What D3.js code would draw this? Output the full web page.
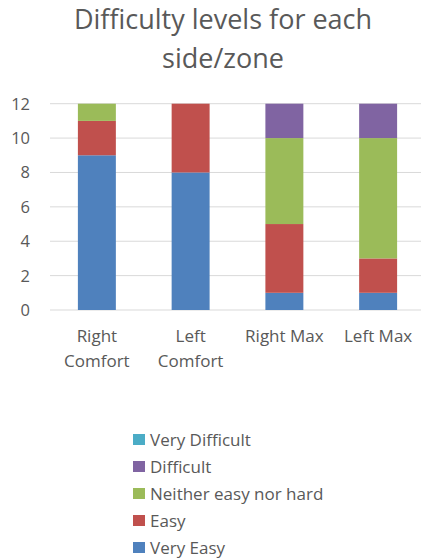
<!DOCTYPE html>
<html><head><meta charset="utf-8">
<script src="https://cdn.jsdelivr.net/npm/d3@7"></script>
<style>body{margin:0;background:#fff}svg{display:block}</style>
</head><body>
<svg id="c" width="421" height="560"></svg>
<script>
const categories = [["Right","Comfort"],["Left","Comfort"],["Right Max"],["Left Max"]];
const seriesNames = ["Very Easy","Easy","Neither easy nor hard","Difficult","Very Difficult"];
const veryEasy = [9, 8, 1, 1];
const easy = [2, 4, 4, 2];
const neither = [1, 0, 5, 7];
const difficult = [0, 0, 2, 2];
const veryDifficult = [0, 0, 0, 0];
const yTicks = [0, 2, 4, 6, 8, 10, 12];
const colors = ["#4F81BD","#C0504D","#9BBB59","#8064A2","#4BACC6"];

const font = "Open Sans, sans-serif";
const txt = "#595959";
const svg = d3.select("#c");

const rows = categories.map((c, i) => ({
  key: c.join(" "), label: c,
  "Very Easy": veryEasy[i], "Easy": easy[i], "Neither easy nor hard": neither[i],
  "Difficult": difficult[i], "Very Difficult": veryDifficult[i]
}));
const stack = d3.stack().keys(seriesNames)(rows);

const x = d3.scaleBand().domain(rows.map(r => r.key)).range([50, 425]).paddingInner(0.595).paddingOuter(0.2975);
const y = d3.scaleLinear().domain([0, 12]).range([310, 103.7]);

// title
svg.append("text").attr("x", 223).attr("y", 29).attr("text-anchor", "middle")
  .attr("font-family", font).attr("font-size", 27).attr("fill", txt).text("Difficulty levels for each");
svg.append("text").attr("x", 223).attr("y", 68).attr("text-anchor", "middle")
  .attr("font-family", font).attr("font-size", 27).attr("fill", txt).text("side/zone");

// grid
svg.append("g").selectAll("line").data(yTicks).join("line")
  .attr("x1", 50).attr("x2", 421).attr("y1", d => y(d)).attr("y2", d => y(d))
  .attr("stroke", "#d9d9d9").attr("stroke-width", 1);

// y labels
svg.append("g").selectAll("text").data(yTicks).join("text")
  .attr("x", 30).attr("y", d => y(d) + 6).attr("text-anchor", "end")
  .attr("font-family", font).attr("font-size", 16.5).attr("fill", txt).text(d => d);

// bars
svg.append("g").selectAll("g").data(stack).join("g")
  .attr("fill", (d, i) => colors[i])
  .selectAll("rect").data(d => d).join("rect")
  .attr("x", d => x(d.data.key)).attr("width", x.bandwidth())
  .attr("y", d => y(d[1])).attr("height", d => y(d[0]) - y(d[1]));

// x labels
const xl = svg.append("g").selectAll("text").data(rows).join("text")
  .attr("x", d => x(d.key) + x.bandwidth() / 2).attr("y", 342).attr("text-anchor", "middle")
  .attr("font-family", font).attr("font-size", 17).attr("fill", txt);
xl.selectAll("tspan").data(d => d.label).join("tspan")
  .attr("x", function() { return d3.select(this.parentNode).attr("x"); })
  .attr("dy", (d, i) => i === 0 ? 0 : 25).text(d => d);

// legend (reverse order)
const legendItems = seriesNames.map((n, i) => ({name: n, color: colors[i]})).reverse();
const lg = svg.append("g").selectAll("g").data(legendItems).join("g")
  .attr("transform", (d, i) => `translate(133, ${440 + i * 27})`);
lg.append("rect").attr("x", 0).attr("y", -6).attr("width", 12).attr("height", 11).attr("fill", d => d.color);
lg.append("text").attr("x", 17).attr("y", 6).attr("font-family", font).attr("font-size", 17)
  .attr("fill", txt).text(d => d.name);
</script>
</body></html>
